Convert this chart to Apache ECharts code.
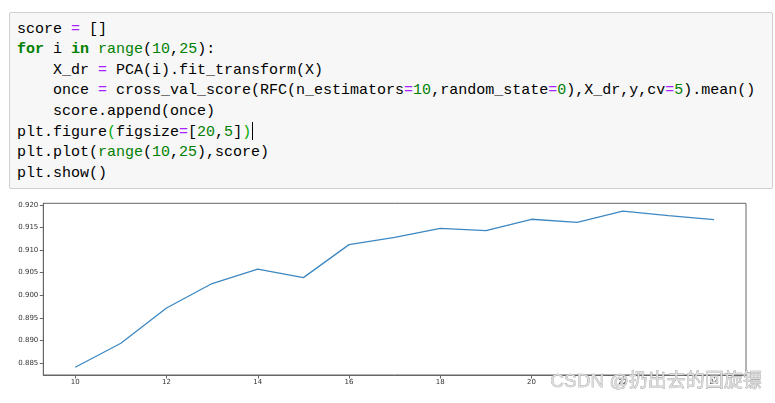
<!DOCTYPE html>
<html>
<head>
<meta charset="utf-8">
<script src="https://cdn.jsdelivr.net/npm/echarts@6/dist/echarts.min.js"></script>
<style>
  html, body { margin:0; padding:0; background:#fff; width:775px; height:403px; overflow:hidden; }
  #topline { position:absolute; left:0; top:4px; width:775px; height:1px; background:#72bf72; }
  #code { position:absolute; left:9px; top:12px; width:764px; height:177px; box-sizing:border-box;
          margin:0; padding:7px 0 0 7px; background:#f7f7f7; border:1px solid #cfcfcf; border-radius:2px;
          font-family:"Liberation Mono","DejaVu Sans Mono",monospace; font-size:15px; line-height:20.4px; color:#000; z-index:2; }
  .o { color:#aa22ff; }
  .k { color:#008000; font-weight:bold; }
  .g { color:#008000; }
  .n { color:#008000; }
  .m { color:#00aa00; }
  .caret { display:inline-block; width:0; height:18px; border-left:1px solid #000; vertical-align:-4px; margin-left:1px; }
  #chart { position:absolute; left:0; top:0; width:775px; height:403px; z-index:1; }
</style>
</head>
<body>
<div id="chart"></div>
<div id="topline"></div>
<pre id="code">score <span class="o">=</span> []
<span class="k">for</span> i <span class="k">in</span> <span class="g">range</span>(<span class="n">10</span>,<span class="n">25</span>):
    X_dr <span class="o">=</span> PCA(i).fit_transform(X)
    once <span class="o">=</span> cross_val_score(RFC(n_estimators<span class="o">=</span><span class="n">10</span>,random_state<span class="o">=</span><span class="n">0</span>),X_dr,y,cv<span class="o">=</span><span class="n">5</span>).mean()
    score.append(once)
plt.figure<span class="m">(</span>figsize<span class="o">=</span>[<span class="n">20</span>,<span class="n">5</span>]<span class="m">)</span><span class="caret"></span>
plt.plot(<span class="g">range</span>(<span class="n">10</span>,<span class="n">25</span>),score)
plt.show()</pre>
<script>
// ---- data ----
const nComponents = [10, 11, 12, 13, 14, 15, 16, 17, 18, 19, 20, 21, 22, 23, 24];
const scores = [0.8841, 0.8894, 0.8972, 0.9026, 0.9058, 0.9039, 0.9112, 0.9128, 0.9148, 0.9143, 0.9168, 0.9161, 0.9186, 0.9176, 0.9167];
const xTickValues = [10, 12, 14, 16, 18, 20, 22, 24];
const yTickValues = [0.885, 0.890, 0.895, 0.900, 0.905, 0.910, 0.915, 0.920];
const watermark = 'CSDN @扔出去的回旋镖';

const chart = echarts.init(document.getElementById('chart'), null, { renderer: 'canvas' });
chart.setOption({
  animation: false,
  backgroundColor: '#fff',
  grid: { left: 43.3, right: 29, top: 203.3, bottom: 28, show: true, borderColor: '#666', borderWidth: 1, containLabel: false },
  xAxis: {
    type: 'value', min: 9.3, max: 24.7,
    axisLine: { show: true, lineStyle: { color: '#666', width: 1 } },
    axisTick: { show: true, length: 3.5, customValues: xTickValues, lineStyle: { color: '#666' } },
    axisLabel: { customValues: xTickValues, fontSize: 7, color: '#333', margin: 4, fontFamily: 'DejaVu Sans',
                 formatter: v => String(v) },
    splitLine: { show: false }
  },
  yAxis: {
    type: 'value', min: 0.88238, max: 0.92033,
    axisLine: { show: true, lineStyle: { color: '#666', width: 1 } },
    axisTick: { show: true, length: 3.5, customValues: yTickValues, lineStyle: { color: '#666' } },
    axisLabel: { customValues: yTickValues, fontSize: 7, color: '#333', margin: 5, fontFamily: 'DejaVu Sans',
                 formatter: v => v.toFixed(3) },
    splitLine: { show: false }
  },
  series: [{
    type: 'line',
    data: nComponents.map((x, i) => [x, scores[i]]),
    showSymbol: false,
    symbol: 'none',
    lineStyle: { color: '#3d88c2', width: 1.3 }
  }],
  graphic: [{
    type: 'text', left: 550, top: 372, z: 100,
    style: { text: watermark, fontSize: 19, fontFamily: '"Liberation Sans","Noto Sans CJK SC",sans-serif',
             fill: '#dcdcdc', stroke: '#9a9a9a', lineWidth: 0.6 }
  }]
});
</script>
</body>
</html>
